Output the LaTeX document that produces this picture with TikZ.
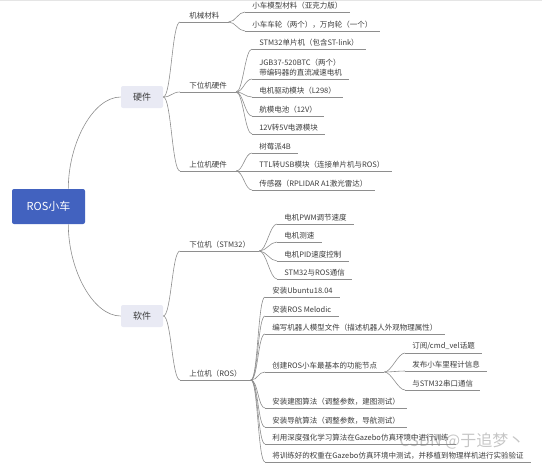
\documentclass[tikz,border=0pt]{standalone}
\usepackage{fontspec}
\newfontfamily\cjk{Noto Sans CJK SC}
\definecolor{rootblue}{HTML}{4262BF}
\definecolor{mainfill}{HTML}{E9EAF4}
\definecolor{linkgray}{HTML}{8E8E8E}
\definecolor{textgray}{HTML}{3C3C3C}
\begin{document}
\begin{tikzpicture}[x=1pt,y=-1pt,line width=.6pt,font=\cjk\fontsize{7.5}{10.5}\selectfont,
  topic/.style={fill=rootblue,text=white,rounded corners=2pt,minimum width=73pt,minimum height=35pt,font=\cjk\fontsize{11}{13}\selectfont},
  part/.style={fill=mainfill,text=textgray,rounded corners=2pt,minimum width=42pt,minimum height=22pt,font=\cjk\fontsize{9}{11}\selectfont},
  item/.style={anchor=south west,text=textgray,inner xsep=7pt,inner ysep=2.5pt,align=left},
  group/.style={item,inner xsep=9pt},
  link/.style={draw=linkgray,line width=.6pt}]
\useasboundingbox (0,0) rectangle (542,467);
\draw[gray!20,line width=1.5pt] (0,0)--(542,0);
% root and the two main parts
\node[topic] (root) at (48.5,206.5) {ROS小车};
\node[part] (hw) at (142,97) {硬件};
\node[part] (sw) at (142,316) {软件};
% second level
\node[group] (mech) at (180,22) {机械材料};
\node[group] (lowhw) at (180,92) {下位机硬件};
\node[group] (uphw) at (180,171) {上位机硬件};
\node[group] (lowsw) at (180,251) {下位机（STM32）};
\node[group] (upsw) at (180,380) {上位机（ROS）};
% hardware items
\node[item] (acrylic) at (245,12) {小车模型材料（亚克力版）};
\node[item] (wheel) at (245,31) {小车车轮（两个），万向轮（一个）};
\node[item] (stm) at (252,49) {STM32单片机（包含ST-link）};
\node[item] (motor) at (252,79) {JGB37-520BTC（两个）\\带编码器的直流减速电机};
\node[item] (driver) at (252,97) {电机驱动模块（L298）};
\node[item] (battery) at (252,116) {航模电池（12V）};
\node[item] (power) at (252,134) {12V转5V电源模块};
\node[item] (pi) at (252,153) {树莓派4B};
\node[item] (ttl) at (252,171) {TTL转USB模块（连接单片机与ROS）};
\node[item] (lidar) at (252,190) {传感器（RPLIDAR A1激光雷达）};
% software items
\node[item] (pwm) at (277,224) {电机PWM调节速度};
\node[item] (speed) at (277,242) {电机测速};
\node[item] (pid) at (277,261) {电机PID速度控制};
\node[item] (comm) at (277,279) {STM32与ROS通信};
\node[item] (ubuntu) at (265,297) {安装Ubuntu18.04};
\node[item] (melodic) at (265,316) {安装ROS Melodic};
\node[item] (model) at (265,334) {编写机器人模型文件（描述机器人外观物理属性）};
\node[item] (basic) at (265,372) {创建ROS小车最基本的功能节点};
\node[item] (mapping) at (265,408) {安装建图算法（调整参数，建图测试）};
\node[item] (nav) at (265,427) {安装导航算法（调整参数，导航测试）};
\node[item] (train) at (265,444) {利用深度强化学习算法在Gazebo仿真环境中进行训练};
\node[item] (deploy) at (265,462) {将训练好的权重在Gazebo仿真环境中测试，并移植到物理样机进行实验验证};
\node[item] (topic) at (405,353) {订阅/cmd\_vel话题};
\node[item] (odom) at (405,371) {发布小车里程计信息};
\node[item] (serial) at (405,390) {与STM32串口通信};
% connectors
\draw[link] ([xshift=-17pt]root.north east) .. controls +(0,-45) and +(-28,0) .. (hw.west);
\draw[link] ([xshift=-17pt]root.south east) .. controls +(0,45) and +(-28,0) .. (sw.west);
\foreach \p/\c in {hw/mech,hw/lowhw,hw/uphw,sw/lowsw,sw/upsw}
  \draw[link] (\p.east) .. controls +(8,0) and +(-8,0) .. (\c.south west);
\foreach \p/\c in {mech/acrylic,mech/wheel,lowhw/stm,lowhw/motor,lowhw/driver,lowhw/battery,lowhw/power,
  uphw/pi,uphw/ttl,uphw/lidar,lowsw/pwm,lowsw/speed,lowsw/pid,lowsw/comm,
  upsw/ubuntu,upsw/melodic,upsw/model,upsw/basic,upsw/mapping,upsw/nav,upsw/train,upsw/deploy,
  basic/topic,basic/odom,basic/serial}
  \draw[link] (\p.south east) .. controls +(7,0) and +(-7,0) .. (\c.south west);
\foreach \n in {mech,lowhw,uphw,lowsw,upsw,acrylic,wheel,stm,motor,driver,battery,power,pi,ttl,lidar,
  pwm,speed,pid,comm,ubuntu,melodic,model,basic,mapping,nav,train,deploy,topic,odom,serial}
  \draw[link] (\n.south west)--(\n.south east);
\node[text=gray,text opacity=.45,font=\cjk\fontsize{16}{18}\selectfont] (mark) at (462,441) {CSDN @于追梦丶};
\end{tikzpicture}
\end{document}
